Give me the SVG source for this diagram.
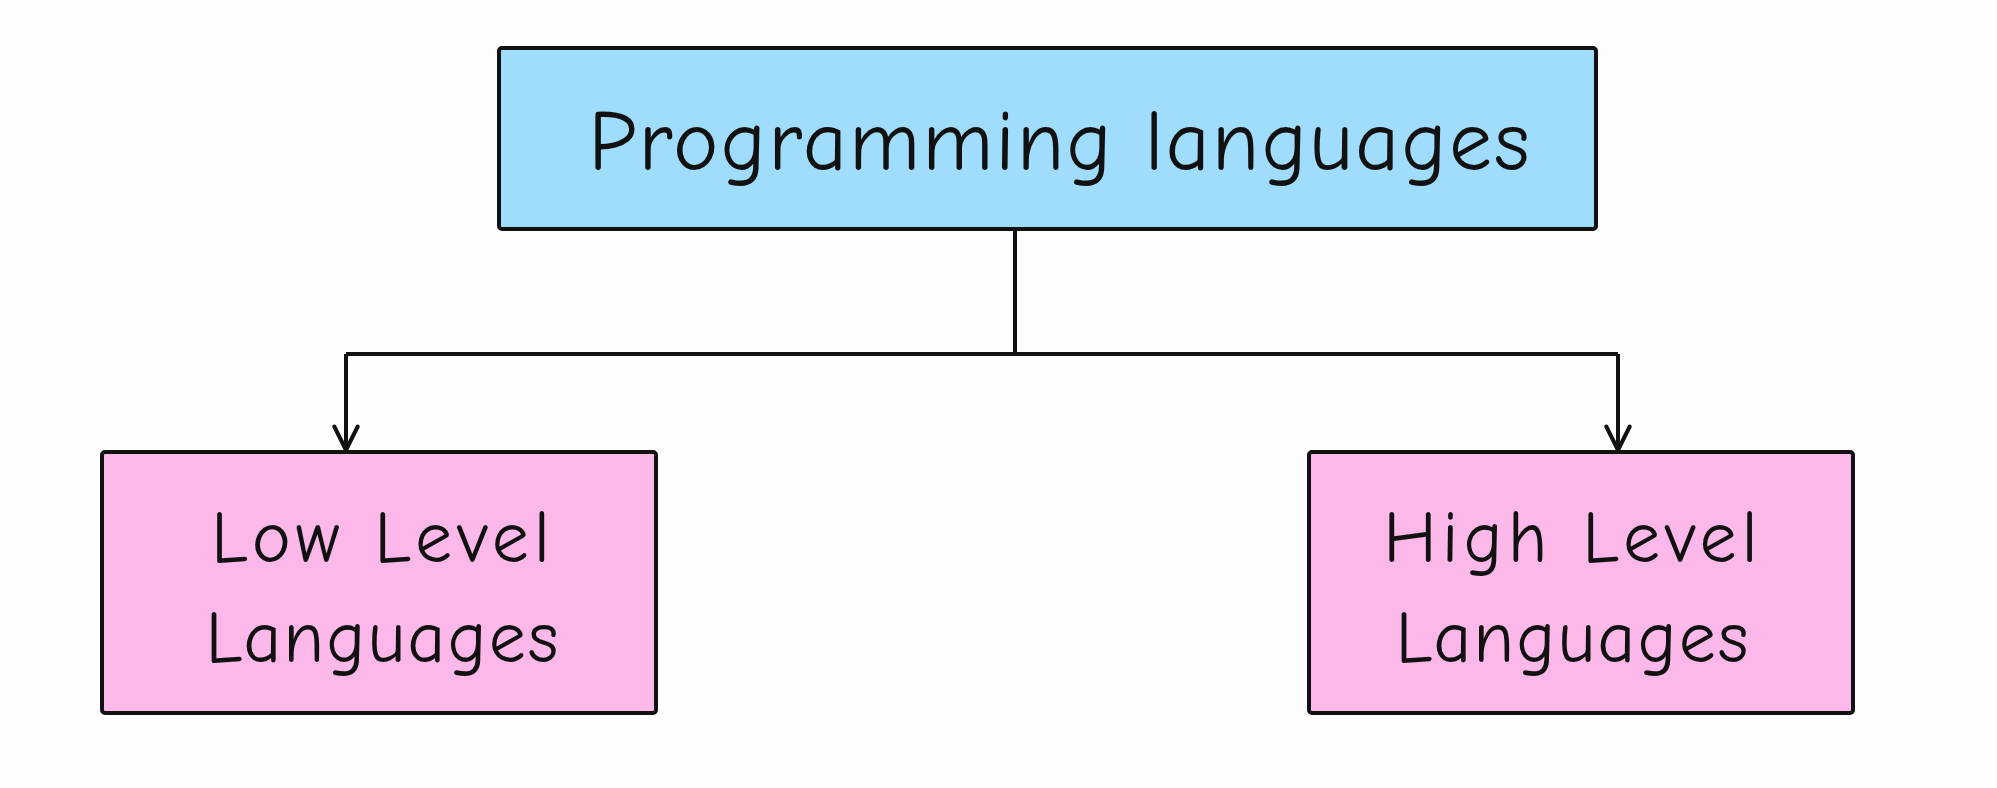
<svg xmlns="http://www.w3.org/2000/svg" width="1997" height="788" viewBox="0 0 1997 788">
<style>
.box{stroke:#111;stroke-width:4;stroke-linejoin:round}
.t{font-family:"Comic Neue","Liberation Sans",sans-serif;fill:#111;text-anchor:middle}
.c{stroke:#111;stroke-width:4;fill:none}
</style>
<defs><marker id="a" viewBox="0 0 24 24" refX="22" refY="12" markerWidth="28" markerHeight="28" markerUnits="userSpaceOnUse" orient="auto"><path d="M2 2 L22 12 L2 22" fill="none" stroke="#111" stroke-width="3.5" stroke-linecap="round" stroke-linejoin="round"/></marker></defs>
<rect width="1997" height="788" fill="#fdfdfd"/>
<g id="connectors">
<path class="c" d="M1015 230 V354"/>
<path class="c" d="M346 354 H1618"/>
<path class="c" d="M346 354 V450" marker-end="url(#a)"/>
<path class="c" d="M1618 354 V450" marker-end="url(#a)"/>
</g>
<g id="root"><rect class="box" x="499" y="48" width="1097" height="181" fill="#a0dcfb" rx="3"/>
<text class="t" x="1060" y="170" font-size="86" letter-spacing="2">Programming languages</text></g>
<g id="low"><rect class="box" x="102" y="452" width="554" height="261" fill="#fbb8e8" rx="3"/>
<text class="t" x="383" y="562" font-size="74" letter-spacing="5">Low Level</text>
<text class="t" x="383" y="662" font-size="74" letter-spacing="2">Languages</text></g>
<g id="high"><rect class="box" x="1309" y="452" width="544" height="261" fill="#fbb8e8" rx="3"/>
<text class="t" x="1573" y="562" font-size="74" letter-spacing="5">High Level</text>
<text class="t" x="1573" y="662" font-size="74" letter-spacing="2">Languages</text></g>
</svg>
